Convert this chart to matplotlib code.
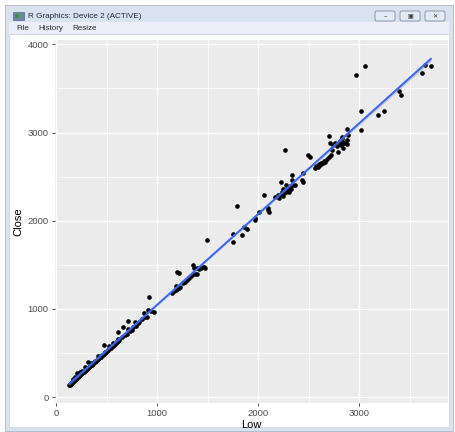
import numpy as np
import matplotlib
matplotlib.use("Agg")
import matplotlib.pyplot as plt
from matplotlib.patches import Rectangle, FancyBboxPatch

# ---------------- data (Low, Close) ----------------
low_dense = [130,135,140,145,150,155,160,168,175,182,188,195,200,210,218,225,232,240,248,255,
             262,270,278,285,292,300,308,315,322,330,338,345,352,360,368,375,382,390,398,405,
             412,420,428,435,442,450,458,465,472,480,488,495,502,510,518,525,532,540,548,555,
             562,570,578,585,592,600,608,615,622,650,680,700,730,760,790,820,850,880]
close_dense = [140,132,150,148,160,158,170,175,182,195,192,205,212,218,230,236,240,252,258,268,
               272,285,288,300,302,315,320,330,335,345,350,360,368,375,380,392,398,405,412,420,
               430,435,445,450,458,468,475,480,490,498,505,512,520,530,535,545,552,560,565,575,
               582,590,598,605,612,620,630,635,645,680,700,720,750,790,810,850,880,905]

low_upper = [165,185,205,238,260,290,320,350,416,436,478,520,564,611,614,663,710,710,750,782,
             812,871,901,911,940,970,925]
close_upper = [200,225,275,287,300,340,400,390,464,453,589,580,615,733,657,796,864,770,759,849,
               838,951,906,985,975,963,1130]

low_mid = [1150,1170,1185,1200,1215,1230,1188,1195,1218,1260,1280,1300,1320,1340,1360,1375,1393,
           1353,1366,1396,1420,1440,1455,1475,1465,1492,
           1749,1756,1838,1861,1891,1795,1970,1970,2013,2059,2099,2102,2110,2168]
close_mid = [1180,1200,1215,1225,1240,1250,1257,1419,1404,1290,1310,1330,1350,1375,1390,1400,1393,
             1503,1461,1461,1450,1460,1472,1461,1480,1786,
             1759,1854,1835,1929,1903,2163,2005,2027,2098,2288,2140,2120,2098,2268]

low_high = [2198,2210,2225,2230,2240,2250,2260,2270,2280,2290,2300,2310,2320,2330,2337,2337,2350,
            2366,2267,2280,2250,2436,2446,2446,2495,2515,
            2560,2575,2590,2600,2610,2620,2630,2640,2650,2660,2680,2700,2720,2733,2792,2700,2713,
            2740,2760,2780,2800,2820,2842,2832,2832,2878,2878,2878,2812,2830,2850,2890,
            3020,3020,3188,3244,2967,3059,3399,3416,3620,3655,3710]
close_high = [2290,2260,2438,2300,2330,2280,2310,2340,2320,2350,2370,2330,2390,2360,2514,2457,2400,
              2410,2797,2400,2360,2457,2435,2540,2750,2718,
              2600,2620,2610,2640,2630,2650,2660,2655,2680,2670,2700,2720,2740,2797,2775,2960,2877,
              2860,2880,2850,2870,2860,2830,2950,2930,2910,2875,3043,2900,2890,2880,2967,
              3243,3024,3194,3243,3650,3760,3477,3428,3670,3770,3760]

low = np.array(low_dense + low_upper + low_mid + low_high, dtype=float)
close = np.array(close_dense + close_upper + close_mid + close_high, dtype=float)

x_ticks = [0, 1000, 2000, 3000]
y_ticks = [0, 1000, 2000, 3000, 4000]

# ---------------- figure / window chrome ----------------
W, H = 456, 432
fig = plt.figure(figsize=(W / 100, H / 100), dpi=100)
fig.patch.set_facecolor("white")

def rect(x0, y0, x1, y1, fc, ec="none", lw=0.0, z=0):
    r = Rectangle((x0 / W, 1 - y1 / H), (x1 - x0) / W, (y1 - y0) / H,
                  transform=fig.transFigure, facecolor=fc, edgecolor=ec, linewidth=lw, zorder=z)
    fig.add_artist(r)

rect(5, 5, 453, 431, "#d9e3f0", ec="#a9b6c8", lw=0.6)      # window frame
rect(9, 22, 449, 34, "#eceff9")                              # menu bar
rect(9, 34, 449, 427, "white", ec="#c8d2e0", lw=0.5)         # client area
rect(13, 12, 24, 20, "#6f86a6", ec="#44556d", lw=0.4)        # icon
rect(15, 14, 19, 18, "#3a9a3a")

fig.text(28 / W, 1 - 16 / H, "R Graphics: Device 2 (ACTIVE)", fontsize=5.9,
         family="Liberation Sans", color="#1e2a3a", va="center", ha="left")
for i, lab in enumerate(["File", "History", "Resize"]):
    fig.text([16, 38, 72][i] / W, 1 - 28.5 / H, lab, fontsize=5.8, family="Liberation Sans",
             color="#303030", va="center", ha="left")
for bx in (385, 410, 435):
    b = FancyBboxPatch(((bx - 10) / W, 1 - 21 / H), 20 / W, 10 / H,
                       boxstyle="round,pad=0,rounding_size=0.004", transform=fig.transFigure,
                       facecolor="#e4eaf3", edgecolor="#7d8ba0", linewidth=0.6)
    fig.add_artist(b)
fig.text(385 / W, 1 - 16.5 / H, "\u2013", fontsize=5, ha="center", va="center", color="#333")
fig.text(410 / W, 1 - 16.5 / H, "\u25a3", fontsize=4.5, ha="center", va="center", color="#333")
fig.text(435 / W, 1 - 16.5 / H, "\u2715", fontsize=4.5, ha="center", va="center", color="#333")

# ---------------- plot panel ----------------
px0, px1, py0, py1 = 55, 448, 40, 403
ax = fig.add_axes([px0 / W, 1 - py1 / H, (px1 - px0) / W, (py1 - py0) / H])
ax.set_facecolor("#EBEBEB")
for s in ax.spines.values():
    s.set_visible(False)

ax.set_xlim(-10, 3880)
ax.set_ylim(-68, 4050)
ax.set_xticks(x_ticks)
ax.set_yticks(y_ticks)
ax.set_xticks([500, 1500, 2500, 3500], minor=True)
ax.set_yticks([500, 1500, 2500, 3500], minor=True)
ax.grid(which="major", color="white", linewidth=1.0)
ax.grid(which="minor", color="white", linewidth=0.5)
ax.set_axisbelow(True)
ax.tick_params(which="major", length=2.5, width=0.6, color="#333333", labelsize=6.8,
               labelcolor="#4d4d4d", pad=2)
ax.tick_params(which="minor", length=0)
for t in ax.get_xticklabels() + ax.get_yticklabels():
    t.set_family("Liberation Sans")

ax.set_xlabel("Low", fontsize=8, family="Liberation Sans", color="black", labelpad=1)
ax.set_ylabel("Close", fontsize=8, family="Liberation Sans", color="black", labelpad=3)

ax.scatter(low, close, s=11, color="black", linewidths=0, zorder=3)

# linear fit with confidence band (like geom_smooth(method="lm"))
coef = np.polyfit(low, close, 1)
xs = np.linspace(low.min(), low.max(), 200)
ys = np.polyval(coef, xs)
n = len(low)
resid = close - np.polyval(coef, low)
s_err = np.sqrt(np.sum(resid ** 2) / (n - 2))
se = s_err * np.sqrt(1 / n + (xs - low.mean()) ** 2 / np.sum((low - low.mean()) ** 2))
ax.fill_between(xs, ys - 1.97 * se, ys + 1.97 * se, color="#999999", alpha=0.4, linewidth=0, zorder=4)
ax.plot(xs, ys, color="#3366FF", linewidth=1.4, zorder=5)

fig.savefig("out.png", dpi=100)
